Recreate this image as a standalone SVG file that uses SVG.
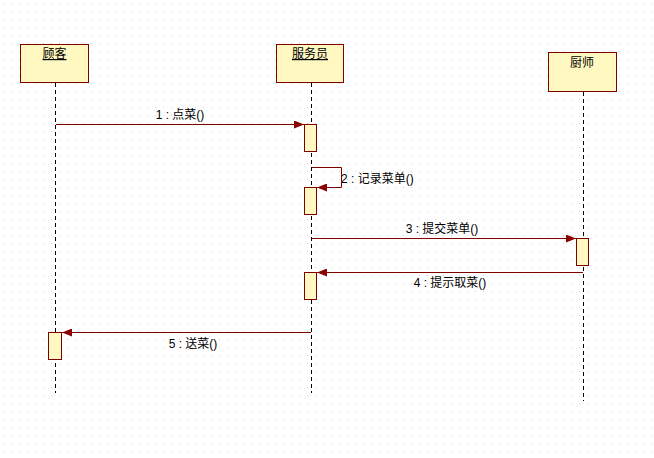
<svg xmlns="http://www.w3.org/2000/svg" width="654" height="458" viewBox="0 0 654 458">
<defs>
<pattern id="grid" width="8" height="8" patternUnits="userSpaceOnUse">
<rect x="3" y="3" width="1" height="1" fill="#d4d4d4"/>
</pattern>
<marker id="arr" viewBox="0 0 10 8" refX="10" refY="4" markerWidth="10" markerHeight="8" markerUnits="userSpaceOnUse" orient="auto">
<path d="M0,0 L10,4 L0,8 Z" fill="#8b0000"/>
</marker>
</defs>
<style>
.obj{fill:#fff8c0;stroke:#800000;stroke-width:1}
.act{fill:#fff8c0;stroke:#800000;stroke-width:1}
.life{stroke:#000;stroke-width:1;stroke-dasharray:4,3;fill:none}
.msg{stroke:#800000;stroke-width:1;fill:none;marker-end:url(#arr)}
text{font-family:"Liberation Sans","Noto Sans CJK SC",sans-serif;font-size:12px;fill:#000}
.name{text-anchor:middle;text-decoration:underline}
.lbl{text-anchor:middle}
</style>
<rect width="654" height="458" fill="#fff"/>
<rect width="654" height="458" fill="url(#grid)"/>

<g id="customer">
<line class="life" x1="55.5" y1="83" x2="55.5" y2="393"/>
<rect class="obj" x="20.5" y="44.5" width="68" height="38"/>
<text class="name" x="54.5" y="58">顾客</text>
<rect class="act" x="48.5" y="332.5" width="13" height="27"/>
</g>

<g id="waiter">
<line class="life" x1="311.5" y1="83" x2="311.5" y2="393"/>
<rect class="obj" x="276.5" y="44.5" width="67" height="38"/>
<text class="name" x="310" y="58">服务员</text>
<rect class="act" x="304.5" y="124.5" width="12" height="27"/>
<rect class="act" x="304.5" y="187.5" width="12" height="27"/>
<rect class="act" x="304.5" y="272.5" width="12" height="27"/>
</g>

<g id="chef">
<line class="life" x1="583.5" y1="92" x2="583.5" y2="401"/>
<rect class="obj" x="548.5" y="52.5" width="68" height="39"/>
<text class="lbl" x="582" y="67">厨师</text>
<rect class="act" x="576.5" y="238.5" width="12" height="27"/>
</g>

<g id="connectors">
<line class="msg" x1="56" y1="124.5" x2="304" y2="124.5"/>
<text class="lbl" x="180" y="119">1 : 点菜()</text>
<polyline class="msg" points="312,167.5 341.5,167.5 341.5,187.5 317,187.5"/>
<text x="341" y="183">2 : 记录菜单()</text>
<line class="msg" x1="312" y1="238.5" x2="576" y2="238.5"/>
<text class="lbl" x="442" y="233">3 : 提交菜单()</text>
<line class="msg" x1="583" y1="272.5" x2="317" y2="272.5"/>
<text class="lbl" x="450" y="287">4 : 提示取菜()</text>
<line class="msg" x1="311" y1="332.5" x2="62" y2="332.5"/>
<text class="lbl" x="193" y="348">5 : 送菜()</text>
</g>
</svg>
